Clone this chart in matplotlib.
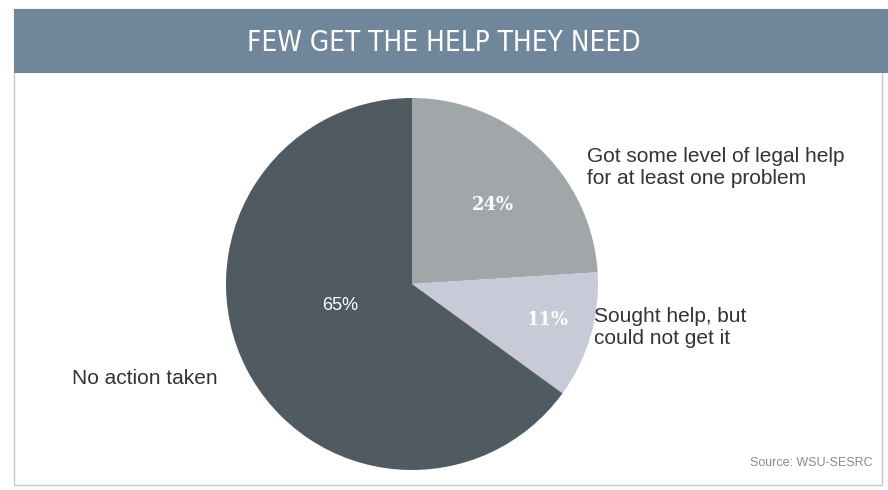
import matplotlib.pyplot as plt
from matplotlib.patches import Rectangle

# data
categories = ["Got some level of legal help\nfor at least one problem",
              "Sought help, but\ncould not get it",
              "No action taken"]
shares = [24, 11, 65]
pct_labels = ["24%", "11%", "65%"]
colors = ["#a1a6a9", "#c8cbd7", "#4f5b61"]

title = "FEW GET THE HELP THEY NEED"
source = "Source: WSU-SESRC"

fig = plt.figure(figsize=(8.88, 4.90), dpi=100)
ax = fig.add_axes([0, 0, 1, 1])

# outer frame and title bar (pixel coordinates, y pointing up)
ax.add_patch(Rectangle((14, 5), 868, 476, fill=False, edgecolor="#c8c8c8", lw=1))
ax.add_patch(Rectangle((14, 417), 874, 64, facecolor="#70869a", edgecolor="none"))
ax.text(444, 447, title, color="white", fontsize=20, family="DejaVu Sans",
        fontstretch="condensed", ha="center", va="center")

ax.pie(shares, colors=colors, startangle=90, counterclock=False,
       center=(412, 206), radius=186, frame=True,
       wedgeprops=dict(edgecolor="none"))
ax.set_xlim(0, 888)
ax.set_ylim(0, 490)
ax.set_aspect("equal")
ax.axis("off")

# percentage labels inside the slices
pct_pos = [(493, 285), (548, 170), (340, 185)]
pct_font = ["DejaVu Serif", "DejaVu Serif", "Liberation Sans"]
pct_weight = ["bold", "bold", "normal"]
for (x, y), t, f, w in zip(pct_pos, pct_labels, pct_font, pct_weight):
    ax.text(x, y, t, color="white", fontsize=13, ha="center", va="center",
            family=f, weight=w)

# category labels
lab = dict(fontsize=15, color="#333333", family="Liberation Sans",
           ha="left", va="center", linespacing=1.2)
ax.text(587, 322, categories[0], **lab)
ax.text(594, 162, categories[1], **lab)
ax.text(72, 112, categories[2], **lab)

ax.text(873, 27, source, fontsize=9, color="#8a8a8a", family="Liberation Sans",
        ha="right", va="center")

fig.savefig("out.png", dpi=100)
